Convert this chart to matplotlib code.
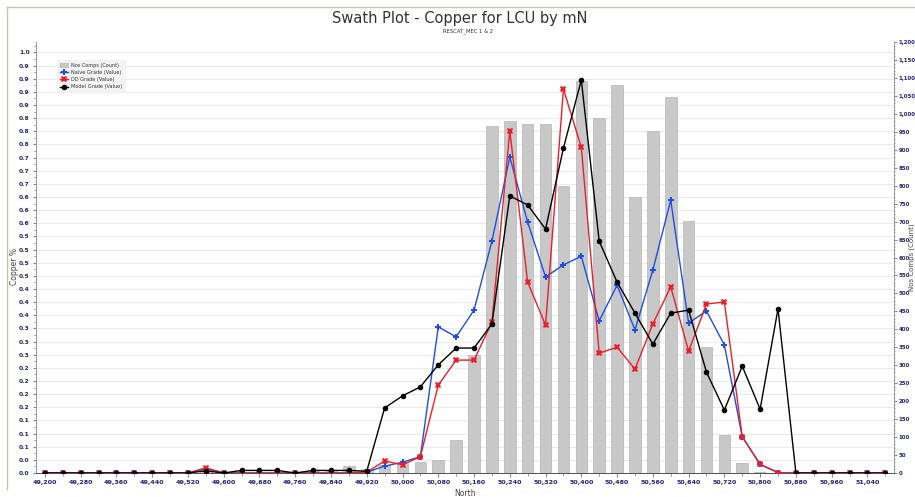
import matplotlib
matplotlib.use("Agg")
import matplotlib.pyplot as plt
from matplotlib.lines import Line2D
from matplotlib.ticker import FixedLocator, FuncFormatter, MultipleLocator
import numpy as np

# Northing of each swath slice (40 m steps)
north = list(range(49200, 51081, 40))

# Number of composites per slice (right axis)
nos_comps = [0, 0, 0, 0, 0, 0, 0, 0, 0, 12, 0, 0, 0, 0, 0, 5,
             5, 20, 10, 22, 28, 31, 36, 92, 329, 967, 980, 972, 972, 800, 1093, 989,
             1081, 769, 953, 1048, 702, 351, 106, 28, 3, 0, 0, 0, 0, 0, 0, 0]

# Copper grades (left axis)
naive_grade = [0, 0, 0, 0, 0, 0, 0, 0, 0, 0.01, 0, 0, 0, 0, 0, 0,
               0, 0, 0.002, 0.016, 0.025, 0.038, 0.339, 0.316, 0.378, 0.538, 0.733, 0.582, 0.455, 0.483, 0.503, 0.353,
               0.436, 0.332, 0.471, 0.633, 0.348, 0.376, 0.297, 0.084, 0.02, 0.001, 0, 0, 0, 0, 0, 0]
dd_grade = [0, 0, 0, 0, 0, 0, 0, 0, 0, 0.012, 0, 0, 0, 0, 0, 0,
            0, 0, 0.002, 0.028, 0.019, 0.038, 0.204, 0.262, 0.262, 0.350, 0.794, 0.443, 0.343, 0.891, 0.756, 0.278,
            0.292, 0.241, 0.346, 0.432, 0.283, 0.392, 0.397, 0.084, 0.02, 0.001, 0, 0, 0, 0, 0, 0]
model_grade = [0, 0, 0, 0, 0, 0, 0, 0, 0, 0.005, 0, 0.006, 0.006, 0.006, 0, 0.006,
               0.006, 0.006, 0.004, 0.151, 0.179, 0.200, 0.251, 0.290, 0.290, 0.346, 0.643, 0.622, 0.566, 0.754, 0.912, 0.538,
               0.443, 0.371, 0.299, 0.371, 0.378, 0.234, 0.146, 0.248, 0.148, 0.381, 0, 0, 0, 0, 0, 0]

label_color = "#23237a"
grade_step = 0.0305

fig = plt.figure(figsize=(9.15, 4.97), dpi=100)
ax = fig.add_axes([0.0393, 0.0483, 0.938, 0.867])
ax2 = ax.twinx()

# bars go on the lower layer, grade lines above
ax.set_zorder(ax2.get_zorder() + 1)
ax.patch.set_visible(False)
ax2.patch.set_facecolor("white")

ax2.bar(north, nos_comps, width=26, color="#c8c8c8", edgecolor="#b4b4b4", linewidth=0.5,
        label="Nos Comps (Count)", zorder=2)

ax.plot(north, naive_grade, color="#1f4fe0", lw=1.0, marker="P", ms=4.5, mew=0,
        label="Naive Grade (Value)", zorder=3)
ax.plot(north, dd_grade, color="#e8202a", lw=1.0, marker="X", ms=4.5, mew=0,
        label="DD Grade (Value)", zorder=4)
ax.plot(north, model_grade, color="black", lw=1.0, marker="o", ms=4, mew=0,
        label="Model Grade (Value)", zorder=5)

ax.set_xlim(49180, 51100)
ax.set_ylim(0, 1.0)
ax2.set_ylim(0, 1200)

# x ticks
ax.xaxis.set_major_locator(MultipleLocator(80))
ax.xaxis.set_minor_locator(MultipleLocator(40))
ax.xaxis.set_major_formatter(FuncFormatter(lambda v, p: f"{v:,.0f}"))
ax.tick_params(axis="x", which="major", labelsize=4.6, labelcolor=label_color, length=3,
               color="#888888", pad=2)
ax.tick_params(axis="x", which="minor", length=2, color="#888888")

# left ticks
left_ticks = [k * grade_step for k in range(33)]
ax.yaxis.set_major_locator(FixedLocator(left_ticks))
ax.yaxis.set_major_formatter(FuncFormatter(lambda v, p: f"{v:.1f}"))
ax.yaxis.set_minor_locator(FixedLocator([(k + 0.5) * grade_step for k in range(33)]))
ax.tick_params(axis="y", which="major", labelsize=4.3, labelcolor=label_color, length=2.5,
               color="#888888", pad=2)
ax.tick_params(axis="y", which="minor", length=1.2, color="#888888")
for t in ax.get_xticklabels() + ax.get_yticklabels():
    t.set_fontweight("bold")

# right ticks
ax2.yaxis.set_major_locator(MultipleLocator(50))
ax2.yaxis.set_minor_locator(MultipleLocator(10))
ax2.yaxis.set_major_formatter(FuncFormatter(lambda v, p: f"{v:,.0f}"))
ax2.tick_params(axis="y", which="major", labelsize=3.9, labelcolor=label_color, length=2,
                color="#888888", pad=1)
ax2.tick_params(axis="y", which="minor", length=1.0, color="#888888")
for t in ax2.get_yticklabels():
    t.set_fontweight("bold")

# grid sits under the bars
ax2.grid(axis="x", which="both", color="#e6e6e6", lw=0.6, zorder=0)
for yv in left_ticks:
    ax2.axhline(yv * 1200, color="#e6e6e6", lw=0.6, zorder=0)
ax2.set_axisbelow(True)

for a in (ax, ax2):
    a.spines["top"].set_visible(False)
    a.spines["left"].set_color("#999999")
    a.spines["right"].set_color("#999999")
    a.spines["bottom"].set_color("#555555")
    for s in a.spines.values():
        s.set_linewidth(0.7)

ax.set_xlabel("North", fontsize=5.5, color="#444444", labelpad=3)
ax.set_ylabel("Copper %", fontsize=5.5, color="#444444")
ax.yaxis.set_label_coords(-0.02, 0.48)
ax2.set_ylabel("Nos Comps (Count)", fontsize=5.0, color="#444444")
ax2.yaxis.set_label_coords(1.0165, 0.5)

fig.text(0.503, 0.962, "Swath Plot - Copper for LCU by mN", ha="center", va="center",
         fontsize=10.5, color="#333333")
fig.text(0.511, 0.937, "RESCAT_MEC 1 & 2", ha="center", va="center", fontsize=3.8,
         color="#333333")

# legend
handles = [plt.Rectangle((0, 0), 1, 1, fc="#c8c8c8", ec="#b4b4b4", lw=0.5)]
handles += ax.get_legend_handles_labels()[0]
labels = ["Nos Comps (Count)", "Naive Grade (Value)", "DD Grade (Value)", "Model Grade (Value)"]
leg = ax.legend(handles, labels, loc="upper left", bbox_to_anchor=(0.022, 0.965),
                fontsize=3.6, frameon=True, facecolor="#f2f2f2", edgecolor="#f2f2f2",
                fancybox=False, handlelength=1.6, handletextpad=0.6, labelspacing=0.45,
                borderpad=0.6)
for t in leg.get_texts():
    t.set_color("#333333")

# outer panel border
fig.add_artist(Line2D([7 / 915, 1], [1 - 7 / 497] * 2, transform=fig.transFigure,
                      color="#c4c4b0", lw=1.0))
fig.add_artist(Line2D([7 / 915] * 2, [1 - 7 / 497, 8 / 497], transform=fig.transFigure,
                      color="#c4c4b0", lw=1.0))

fig.savefig("out.png", dpi=100)
